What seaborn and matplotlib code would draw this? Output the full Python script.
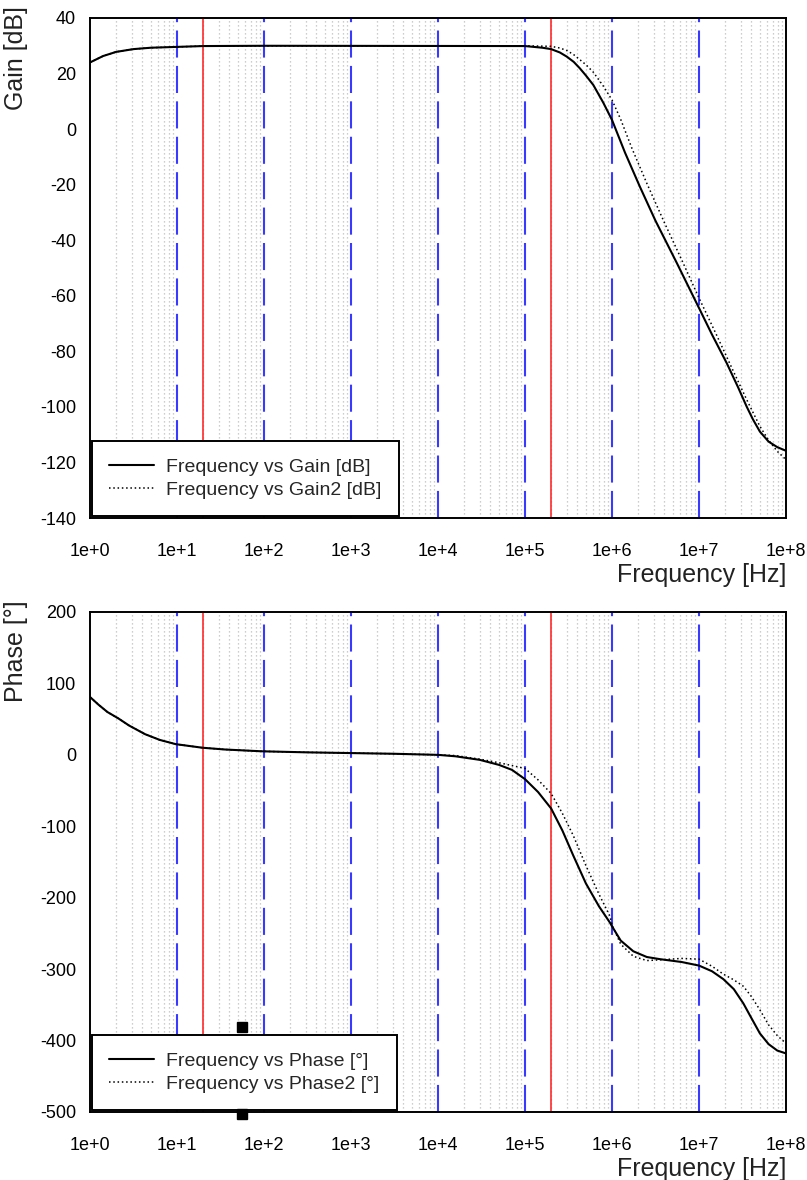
import numpy as np
import pandas as pd
import seaborn as sns
from matplotlib import pyplot as plt
from matplotlib.ticker import FixedLocator, NullFormatter

# log10 of frequency [Hz] and values
gain_logf = [0.0, 0.15, 0.3, 0.5, 0.7, 1.0, 1.3, 2.0, 5.0, 5.2, 5.3, 5.4, 5.48, 5.56, 5.63,
             5.7, 5.785, 5.9, 6.0, 6.15, 6.32, 6.5, 6.745, 7.0, 7.15, 7.318, 7.45, 7.548,
             7.62, 7.7, 7.8, 7.9, 8.0]
gain_db = [24.0, 26.3, 27.8, 28.8, 29.3, 29.6, 29.9, 30.0, 29.9, 29.3, 28.8, 27.6, 26.1, 24.2, 21.9,
           19.3, 15.9, 9.5, 3.3, -8.5, -20.7, -33.0, -48.2, -64.4, -74.0, -84.2, -93.0, -99.9,
           -104.5, -108.9, -112.5, -114.5, -115.8]

gain2_logf = [0.0, 0.15, 0.3, 0.5, 0.7, 1.0, 1.3, 2.0, 5.0, 5.3, 5.4, 5.48, 5.56, 5.63, 5.7,
              5.785, 5.9, 6.0, 6.1, 6.23, 6.4, 6.6, 6.8, 7.0, 7.2, 7.4, 7.55, 7.7, 7.8, 7.9, 8.0]
gain2_db = [24.0, 26.3, 27.8, 28.8, 29.3, 29.6, 29.9, 30.0, 30.0, 29.8, 29.2, 28.3, 26.8, 25.0, 23.2,
            20.5, 15.5, 10.5, 3.5, -7.0, -19.5, -33.5, -47.0, -60.8, -74.0, -87.5, -97.5, -107.0,
            -112.0, -116.0, -119.0]

phase_logf = [0.0, 0.1, 0.2, 0.326, 0.45, 0.632, 0.8, 0.985, 1.29, 1.55, 1.97, 2.5, 3.0, 3.5,
              4.0, 4.2, 4.48, 4.7, 4.85, 5.0, 5.15, 5.3, 5.43, 5.555, 5.7, 5.85, 5.977, 6.0,
              6.1, 6.245, 6.4, 6.55, 6.8, 7.0, 7.15, 7.28, 7.4, 7.51, 7.6, 7.7, 7.8, 7.9, 8.0]
phase_deg = [81, 70, 60, 51, 41, 29, 21, 15, 10, 7.5, 5, 3.5, 2.5, 1.5,
             0, -2, -7, -14, -21, -34, -52, -75, -106, -141, -180, -212, -235, -240,
             -260, -275, -283, -286, -290, -295, -303, -314, -328, -348, -368, -390, -405, -414, -418]

phase2_logf = [0.0, 0.1, 0.2, 0.326, 0.45, 0.632, 0.8, 0.985, 1.29, 1.55, 1.97, 2.5, 3.0, 3.5,
               4.0, 4.2, 4.48, 4.7, 4.85, 5.0, 5.15, 5.3, 5.43, 5.555, 5.7, 5.85, 5.977, 6.0,
               6.1, 6.245, 6.4, 6.55, 6.8, 7.0, 7.15, 7.28, 7.4, 7.51, 7.6, 7.7, 7.8, 7.9, 8.0]
phase2_deg = [81, 70, 60, 51, 41, 29, 21, 15, 10, 7.5, 5, 3.5, 2.5, 1.5,
              0, -1, -6, -11, -15, -19, -35, -54, -82, -113, -155, -195, -226, -238,
              -265, -282, -288, -287, -285, -286, -296, -307, -315, -324, -338, -357, -378, -393, -404]

decades = [1e0, 1e1, 1e2, 1e3, 1e4, 1e5, 1e6, 1e7, 1e8]
x_tick_labels = ['1e+0', '1e+1', '1e+2', '1e+3', '1e+4', '1e+5', '1e+6', '1e+7', '1e+8']
blue_marks = [1e1, 1e2, 1e3, 1e4, 1e5, 1e6, 1e7]
red_marks = [2e1, 2e5]
gain_ticks = list(range(-140, 41, 20))
phase_ticks = list(range(-500, 201, 100))
cursor_f = 56


def make_df(logf, values):
    return pd.DataFrame({'freq': np.power(10.0, logf), 'value': values})


def style_axes(ax, yticks, ylabel):
    ax.set_xscale('log')
    ax.set_xlim(1e0, 1e8)
    ax.set_ylim(yticks[0], yticks[-1])
    ax.xaxis.set_major_locator(FixedLocator(decades))
    ax.set_xticklabels(x_tick_labels)
    minors = [m * d for d in decades[:-1] for m in range(2, 10)]
    ax.xaxis.set_minor_locator(FixedLocator(minors))
    ax.xaxis.set_minor_formatter(NullFormatter())
    ax.set_yticks(yticks)
    ax.grid(False)
    ax.xaxis.grid(True, which='minor', color='#bdbdbd', lw=0.9, ls=(0, (1, 2.2)))
    ax.tick_params(axis='x', which='major', direction='out', length=8, width=1.3,
                   pad=10, labelsize=13, colors='black')
    ax.tick_params(axis='x', which='minor', length=0)
    ax.tick_params(axis='y', direction='out', length=6, width=1.3, pad=4,
                   labelsize=13, colors='black')
    for s in ax.spines.values():
        s.set_visible(True)
        s.set_color('black')
        s.set_linewidth(1.4)
    for f in blue_marks:
        ax.axvline(f, color='#3a3aff', lw=1.5, ls=(0, (13, 4)), zorder=1.5)
    for f in red_marks:
        ax.axvline(f, color='#ff2a2a', lw=1.2, zorder=1.5)
    ax.set_xlabel('Frequency [Hz]', fontsize=18, color='#222222', loc='right')
    ax.xaxis.set_label_coords(1.0, -0.09)
    ax.set_ylabel(ylabel, fontsize=18, color='#222222', loc='top')
    ax.yaxis.set_label_coords(-0.089, 1.024)


def draw_pair(ax, df1, df2, lab1, lab2):
    sns.lineplot(data=df1, x='freq', y='value', ax=ax, color='black', lw=1.5,
                 label=lab1, zorder=3)
    sns.lineplot(data=df2, x='freq', y='value', ax=ax, color='black', lw=1.1,
                 ls=(0, (1, 1.8)), label=lab2, zorder=3)
    leg = ax.legend(loc='lower left', bbox_to_anchor=(0, 0), borderaxespad=0.1,
                    fontsize=14, fancybox=False, framealpha=1, edgecolor='black',
                    handlelength=2.3, handletextpad=0.6, borderpad=0.9, labelspacing=0.25)
    leg.get_frame().set_linewidth(1.4)
    leg.set_zorder(6)


sns.set_style('white')
plt.rcParams['font.family'] = ['Liberation Sans', 'DejaVu Sans']
plt.rcParams['axes.unicode_minus'] = False

fig = plt.figure(figsize=(8.07, 11.8), dpi=100)
ax1 = fig.add_axes([90 / 807, 1 - 518 / 1180, 696 / 807, 500 / 1180])
ax2 = fig.add_axes([90 / 807, 1 - 1112 / 1180, 696 / 807, 500 / 1180])

style_axes(ax1, gain_ticks, 'Gain [dB]')
draw_pair(ax1, make_df(gain_logf, gain_db), make_df(gain2_logf, gain2_db),
          'Frequency vs Gain [dB]', 'Frequency vs Gain2 [dB]')

style_axes(ax2, phase_ticks, 'Phase [°]')
draw_pair(ax2, make_df(phase_logf, phase_deg), make_df(phase2_logf, phase2_deg),
          'Frequency vs Phase [°]', 'Frequency vs Phase2 [°]')

# small black cursor marks in the phase plot
ax2.plot([cursor_f, cursor_f], [-381, -503], ls='none', marker='s', ms=7,
         color='black', clip_on=False, zorder=7)

fig.savefig('out.png', dpi=100)
